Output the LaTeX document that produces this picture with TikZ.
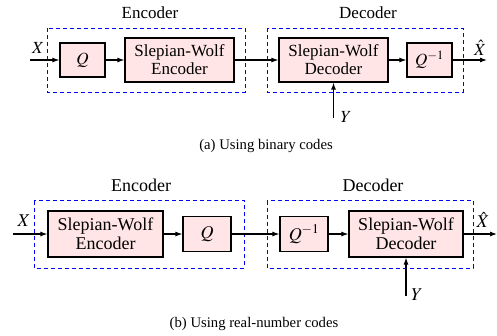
\documentclass[tikz,border=0pt]{standalone}
\usepackage{mathptmx}
\usepackage{fontspec}
\setmainfont{Liberation Serif}
\usetikzlibrary{arrows.meta}
\begin{document}
\begin{tikzpicture}[x=1pt,y=1pt,
  blk/.style={draw=black, line width=1.2pt, fill=red!10, inner sep=0pt, align=center},
  grp/.style={draw=blue, line width=0.9pt, dash pattern=on 4pt off 3pt},
  flow/.style={line width=1.1pt, -{Latex[length=7pt,width=5pt]}},
  topfont/.style={font=\fontsize{17}{18}\selectfont},
  botfont/.style={font=\fontsize{18}{19}\selectfont},
  lbl/.style={inner sep=0pt},
  captext/.style={font=\fontsize{14.7}{16}\selectfont, inner sep=0pt}]
\useasboundingbox (0,0) rectangle (497,-335);

% ---------- (a) binary codes ----------
\begin{scope}[topfont]
\draw[grp] (47,-28) rectangle (245,-92);
\draw[grp] (267,-28) rectangle (463,-92);
\node[lbl] (encA) at (150,-13) {Encoder};
\node[lbl] (decA) at (368,-13) {Decoder};
\node[blk, minimum width=45pt, minimum height=34pt] (qA) at (82.5,-60) {$Q$};
\node[blk, minimum width=109pt, minimum height=44pt] (sweA) at (179.5,-60) {Slepian-Wolf\\Encoder};
\node[blk, minimum width=109pt, minimum height=44pt] (swdA) at (333.5,-60) {Slepian-Wolf\\Decoder};
\node[blk, minimum width=45pt, minimum height=34pt] (qiA) at (429.5,-60) {$Q^{-1}$};
\coordinate (inA) at (30,-60);
\coordinate (outA) at (487,-60);
\coordinate (yA) at (333.5,-118);
\draw[flow] (inA) -- (qA);
\draw[flow] (qA) -- (sweA);
\draw[flow] (sweA) -- (swdA);
\draw[flow] (swdA) -- (qiA);
\draw[flow] (qiA) -- (outA);
\draw[flow] (yA) -- (swdA);
\node[lbl] (xA) at (38,-48) {$X$};
\node[lbl] (xhA) at (480,-48) {$\hat{X}$};
\node[lbl] (yLA) at (346,-117) {$Y$};
\end{scope}
\node[captext] (capA) at (266,-146) {(a)\ Using binary codes};

% ---------- (b) real-number codes ----------
\begin{scope}[botfont]
\draw[grp] (34,-200.7) rectangle (244,-268);
\draw[grp] (267,-200.7) rectangle (473,-268);
\node[lbl] (encB) at (141,-185) {Encoder};
\node[lbl] (decB) at (373,-185) {Decoder};
\node[blk, minimum width=115pt, minimum height=46pt] (sweB) at (105.5,-234) {Slepian-Wolf\\Encoder};
\node[blk, minimum width=48pt, minimum height=35pt] (qB) at (207,-234) {$Q$};
\node[blk, minimum width=48pt, minimum height=35pt] (qiB) at (304,-234) {$Q^{-1}$};
\node[blk, minimum width=114pt, minimum height=46pt] (swdB) at (406,-234) {Slepian-Wolf\\Decoder};
\coordinate (inB) at (13,-234);
\coordinate (outB) at (497,-234);
\coordinate (yB) at (406,-296);
\draw[flow] (inB) -- (sweB);
\draw[flow] (sweB) -- (qB);
\draw[flow] (qB) -- (qiB);
\draw[flow] (qiB) -- (swdB);
\draw[flow] (swdB) -- (outB);
\draw[flow] (yB) -- (swdB);
\node[lbl] (xB) at (24,-221) {$X$};
\node[lbl] (xhB) at (483,-220) {$\hat{X}$};
\node[lbl] (yLB) at (417,-295) {$Y$};
\end{scope}
\node[captext] (capB) at (254,-324) {(b)\ Using real-number codes};
\end{tikzpicture}
\end{document}
